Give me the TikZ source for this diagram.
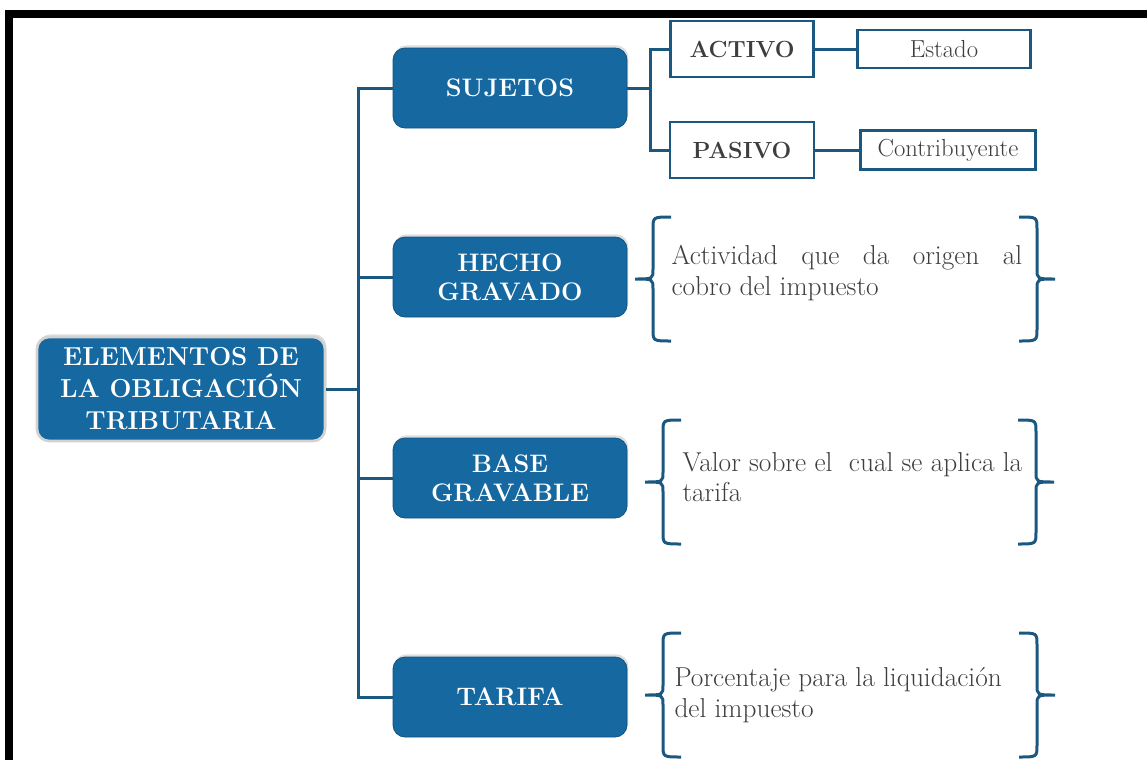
\documentclass[tikz,border=0pt]{standalone}
\usepackage{fontspec}
\usetikzlibrary{shadows}

\definecolor{boxblue}{RGB}{22,104,160}
\definecolor{lineblue}{RGB}{27,88,128}
\definecolor{txtgray}{RGB}{62,62,62}

\tikzset{every picture/.style={line width=0.75pt}}
\tikzset{
  mainbox/.style={rectangle, rounded corners=9pt, fill=boxblue, draw=gray!35, line width=2pt,
    text=white, font=\fontsize{19.5}{24}\selectfont\bfseries, align=center,
    minimum width=216pt, minimum height=78pt,
    drop shadow={shadow xshift=1pt, shadow yshift=2pt, opacity=0.25}},
  topic/.style={rectangle, rounded corners=9pt, fill=boxblue, draw=boxblue!80!black, line width=0.6pt,
    text=white, font=\fontsize{19}{22}\selectfont\bfseries, align=center,
    minimum width=175.5pt, minimum height=60pt,
    drop shadow={shadow xshift=1pt, shadow yshift=2pt, opacity=0.25}},
  kindbox/.style={rectangle, draw=lineblue, line width=2pt, fill=white, text=txtgray,
    font=\fontsize{17.5}{20}\selectfont\bfseries, minimum width=107pt, minimum height=42pt},
  valbox/.style={rectangle, draw=lineblue, line width=2pt, fill=white, text=txtgray,
    font=\fontsize{18.5}{20}\selectfont, minimum width=130pt, minimum height=28.5pt, inner sep=2pt},
  note/.style={text=txtgray, font=\fontsize{20.5}{23}\selectfont, text width=263pt,
    align=justify, inner sep=0pt, anchor=west},
  link/.style={draw=lineblue, line width=2.25pt},
  pics/lbrak/.style={code={
    \draw[link] (18,-62) .. controls (0,-62) .. (0,-50) -- (0,-10)
      .. controls (0,0) .. (-18,0) .. controls (0,0) .. (0,10) -- (0,50)
      .. controls (0,62) .. (18,62);
  }},
  pics/rbrak/.style={code={
    \draw[link] (-18,-62) .. controls (0,-62) .. (0,-50) -- (0,-10)
      .. controls (0,0) .. (18,0) .. controls (0,0) .. (0,10) -- (0,50)
      .. controls (0,62) .. (-18,62);
  }},
}

\begin{document}
\begin{tikzpicture}[x=0.75pt,y=0.75pt,yscale=-1,xscale=1]
\useasboundingbox (0,0) rectangle (1147,760);

%Frame
\fill[black] (5,10) rectangle (1147,18);
\fill[black] (5,10) rectangle (13,760);

% Main node
\node[mainbox] (elem) at (181,389) {ELEMENTOS DE\\LA OBLIGACIÓN\\TRIBUTARIA};

% Topic nodes
\node[topic] (suj) at (510,88) {SUJETOS};
\node[topic] (hecho) at (510,277) {HECHO\\GRAVADO};
\node[topic] (base) at (510,478) {BASE\\GRAVABLE};
\node[topic] (tarifa) at (510,697) {TARIFA};

% Sujetos
\node[kindbox] (act) at (742,49) {ACTIVO};
\node[kindbox, minimum width=108pt] (pas) at (742,150) {PASIVO};
\node[valbox] (est) at (944,49) {Estado};
\node[valbox, minimum width=131pt, minimum height=29pt] (con) at (948,150) {Contribuyente};

% Trunk
\coordinate (tk) at (358,389);
\draw[link] (elem.east) -- (tk);
\draw[link] (suj.west) -| (tk);
\draw[link] (tarifa.west) -| (tk);
\draw[link] (hecho.west) -- (hecho.west -| tk);
\draw[link] (base.west) -- (base.west -| tk);

% Branch of sujetos
\coordinate (sk) at (650,88);
\draw[link] (suj.east) -- (sk);
\draw[link] (act.west) -| (sk);
\draw[link] (pas.west) -| (sk);
\draw[link] (act.east) -- (est.west);
\draw[link] (pas.east) -- (con.west);

% Text Node
\node[note] (hechotxt) at (671,273) {Actividad que da origen al\linebreak cobro del impuesto};
\pic at (653,279) {lbrak};
\pic at (1037,279) {rbrak};

% Text Node
\node[note] (basetxt) at (682,477) {Valor sobre el\ \ cual se aplica la\\tarifa};
\pic at (663,482) {lbrak};
\pic at (1036,482) {rbrak};

% Text Node
\node[note] (tarifatxt) at (674,695) {Porcentaje para la liquidación\\del impuesto};
\pic at (663,695) {lbrak};
\pic at (1037,695) {rbrak};

\end{tikzpicture}
\end{document}
